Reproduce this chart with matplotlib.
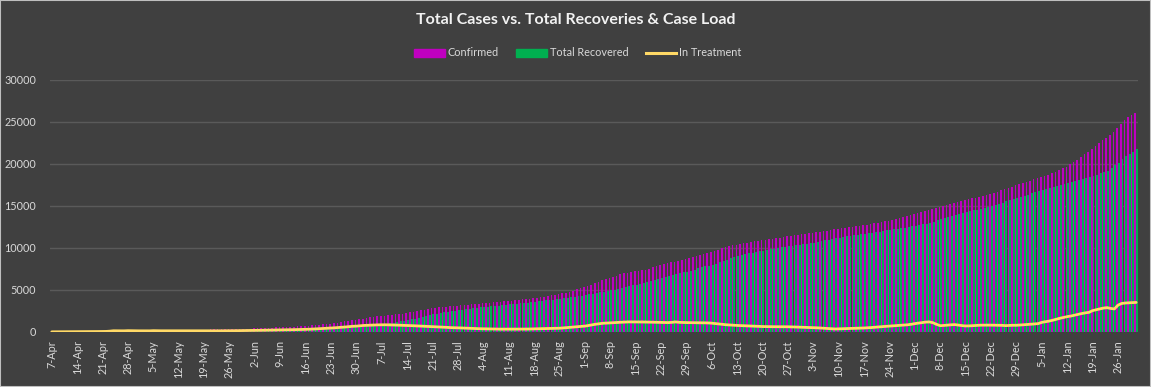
import matplotlib.pyplot as plt
import numpy as np
import pandas as pd
from matplotlib.patches import Rectangle
from matplotlib.lines import Line2D
from matplotlib.patches import Patch

plt.rcParams['font.family'] = ['Lato', 'DejaVu Sans']

# daily values, 7-Apr-2020 .. 31-Jan-2021, one row per week
confirmed = [
    20, 22, 25, 28, 30, 34, 38,
    40, 44, 48, 52, 56, 60, 65,
    70, 80, 110, 160, 175, 185, 192,
    200, 205, 210, 215, 220, 224, 228,
    232, 236, 240, 244, 248, 252, 256,
    260, 264, 268, 272, 276, 280, 284,
    290, 295, 300, 306, 312, 318, 324,
    330, 340, 350, 362, 375, 390, 405,
    420, 440, 460, 480, 500, 520, 540,
    560, 580, 600, 625, 650, 675, 700,
    720, 760, 800, 840, 890, 940, 970,
    1000, 1060, 1120, 1190, 1260, 1330, 1390,
    1450, 1520, 1590, 1660, 1730, 1790, 1850,
    1900, 1950, 2000, 2050, 2100, 2150, 2200,
    2250, 2330, 2410, 2490, 2570, 2650, 2730,
    2800, 2860, 2920, 2970, 3020, 3070, 3110,
    3150, 3190, 3230, 3270, 3310, 3350, 3390,
    3420, 3460, 3500, 3540, 3580, 3610, 3640,
    3680, 3730, 3780, 3830, 3880, 3930, 3980,
    4030, 4090, 4150, 4220, 4290, 4360, 4430,
    4500, 4600, 4700, 4820, 4940, 5060, 5180,
    5300, 5470, 5640, 5820, 6000, 6150, 6280,
    6400, 6550, 6700, 6850, 6980, 7080, 7170,
    7250, 7300, 7360, 7420, 7550, 7680, 7820,
    7950, 8060, 8170, 8280, 8390, 8500, 8600,
    8700, 8820, 8940, 9070, 9200, 9320, 9440,
    9550, 9680, 9820, 9960, 10100, 10220, 10320,
    10400, 10480, 10560, 10640, 10720, 10790, 10850,
    10900, 10970, 11040, 11110, 11180, 11250, 11330,
    11400, 11460, 11520, 11580, 11640, 11700, 11750,
    11800, 11870, 11940, 12010, 12080, 12150, 12230,
    12300, 12360, 12420, 12480, 12540, 12600, 12650,
    12700, 12770, 12850, 12930, 13010, 13090, 13170,
    13250, 13350, 13450, 13550, 13660, 13770, 13880,
    14000, 14130, 14260, 14380, 14500, 14620, 14740,
    14850, 14970, 15090, 15210, 15330, 15450, 15580,
    15700, 15800, 15900, 16000, 16110, 16220, 16330,
    16450, 16580, 16720, 16860, 17000, 17150, 17300,
    17450, 17600, 17750, 17890, 18030, 18160, 18280,
    18400, 18550, 18710, 18880, 19070, 19270, 19480,
    19700, 19950, 20200, 20500, 20800, 21150, 21450,
    21800, 22150, 22500, 22850, 23150, 23450, 23800,
    24300, 24800, 25250, 25600, 25850, 26050,
]

recovered = [
    0, 0, 0, 1, 1, 2, 2,
    3, 3, 4, 5, 5, 6, 7,
    8, 9, 10, 12, 14, 16, 18,
    20, 25, 30, 35, 40, 45, 50,
    55, 60, 65, 70, 75, 80, 85,
    90, 95, 100, 105, 110, 115, 120,
    120, 125, 130, 135, 140, 145, 150,
    150, 155, 160, 165, 172, 180, 190,
    200, 210, 220, 230, 240, 255, 270,
    280, 295, 310, 325, 340, 355, 370,
    380, 395, 410, 425, 445, 465, 485,
    500, 520, 550, 580, 610, 640, 670,
    700, 730, 760, 800, 840, 880, 920,
    950, 1000, 1060, 1120, 1190, 1260, 1330,
    1400, 1500, 1600, 1700, 1800, 1900, 2000,
    2100, 2180, 2260, 2340, 2420, 2490, 2550,
    2600, 2660, 2720, 2780, 2840, 2900, 2940,
    2980, 3020, 3060, 3100, 3150, 3200, 3240,
    3280, 3330, 3380, 3420, 3470, 3510, 3560,
    3600, 3650, 3700, 3760, 3810, 3860, 3910,
    3960, 4020, 4080, 4150, 4210, 4280, 4340,
    4400, 4470, 4550, 4630, 4710, 4790, 4870,
    4950, 5040, 5130, 5230, 5330, 5430, 5540,
    5650, 5760, 5870, 5980, 6100, 6220, 6340,
    6450, 6560, 6670, 6780, 6890, 7000, 7100,
    7200, 7320, 7440, 7560, 7680, 7800, 7900,
    7980, 8120, 8280, 8450, 8620, 8800, 8960,
    9100, 9200, 9300, 9380, 9460, 9550, 9630,
    9700, 9780, 9860, 9940, 10010, 10080, 10140,
    10200, 10250, 10310, 10370, 10430, 10490, 10550,
    10600, 10700, 10800, 10900, 11000, 11100, 11180,
    11250, 11320, 11380, 11450, 11520, 11580, 11640,
    11700, 11760, 11820, 11880, 11940, 12020, 12090,
    12150, 12220, 12290, 12360, 12430, 12500, 12580,
    12650, 12720, 12800, 12880, 12960, 13150, 13330,
    13500, 13620, 13740, 13860, 13980, 14100, 14200,
    14300, 14390, 14480, 14570, 14660, 14760, 14860,
    14950, 15090, 15240, 15390, 15540, 15680, 15820,
    15950, 16080, 16220, 16360, 16500, 16630, 16750,
    16850, 16970, 17090, 17210, 17330, 17450, 17580,
    17700, 17820, 17950, 18080, 18210, 18340, 18470,
    18600, 18740, 18880, 19030, 19200, 19500, 19850,
    20150, 20550, 20900, 21200, 21480, 21750,
]

in_treatment = [
    20, 22, 25, 27, 29, 32, 36,
    37, 41, 44, 47, 51, 54, 58,
    62, 71, 100, 148, 150, 140, 140,
    160, 150, 140, 140, 140, 139, 138,
    160, 146, 145, 144, 143, 142, 141,
    140, 139, 138, 137, 136, 135, 134,
    140, 140, 140, 141, 142, 143, 144,
    150, 155, 160, 165, 170, 175, 180,
    190, 200, 210, 220, 230, 235, 240,
    250, 255, 260, 270, 280, 290, 300,
    310, 330, 350, 370, 400, 430, 450,
    470, 500, 530, 560, 600, 640, 680,
    700, 740, 780, 800, 820, 840, 850,
    860, 860, 850, 840, 820, 800, 790,
    780, 760, 740, 720, 700, 680, 660,
    640, 630, 600, 570, 550, 520, 510,
    500, 480, 460, 440, 420, 400, 390,
    380, 370, 360, 350, 340, 340, 340,
    340, 340, 340, 340, 340, 350, 360,
    370, 380, 390, 400, 410, 420, 440,
    450, 480, 520, 560, 600, 640, 670,
    700, 780, 860, 930, 990, 1040, 1060,
    1080, 1110, 1140, 1160, 1180, 1200, 1200,
    1200, 1200, 1190, 1180, 1170, 1160, 1140,
    1130, 1120, 1120, 1150, 1200, 1150, 1130,
    1120, 1110, 1100, 1100, 1100, 1090, 1080,
    1050, 1000, 950, 900, 860, 830, 800,
    780, 760, 740, 720, 700, 680, 660,
    650, 640, 640, 630, 630, 620, 620,
    620, 610, 600, 580, 560, 540, 530,
    520, 500, 470, 440, 410, 380, 360,
    380, 390, 400, 420, 440, 450, 460,
    480, 500, 530, 570, 610, 640, 670,
    700, 730, 760, 790, 820, 860, 920,
    1000, 1060, 1120, 1180, 1200, 1100, 900,
    750, 780, 820, 860, 880, 820, 760,
    720, 730, 760, 790, 810, 820, 820,
    820, 810, 800, 790, 760, 780, 800,
    800, 830, 860, 900, 930, 960, 1000,
    1150, 1220, 1300, 1400, 1520, 1640, 1740,
    1830, 1900, 2000, 2100, 2200, 2280, 2340,
    2550, 2650, 2750, 2850, 2900, 2800, 2750,
    3200, 3400, 3450, 3480, 3500, 3520,
]

dates = pd.date_range('2020-04-07', periods=len(confirmed), freq='D')
labels = [f"{d.day}-{d.strftime('%b')}" for d in dates]

bg = '#404040'
txt = '#d9d9d9'
c_conf = '#c000c0'
c_rec = '#00b050'
c_line = '#ffd966'

fig = plt.figure(figsize=(11.51, 3.87), dpi=100, facecolor=bg)
fig.patches.append(Rectangle((0, 0), 1, 1, transform=fig.transFigure,
                             fill=False, edgecolor='#bfbfbf', linewidth=1.5))
ax = fig.add_axes([50 / 1151, 55 / 387, 1088 / 1151, 252 / 387])
ax.set_facecolor(bg)

x = np.arange(len(confirmed))
wc, wr = 0.44, 0.54
ax.bar(x - 0.48 + wc / 2, confirmed, width=wc, color=c_conf, linewidth=0,
       zorder=2, antialiased=False)
ax.bar(x - 0.04 + wr / 2, recovered, width=wr, color=c_rec, linewidth=0,
       zorder=2, antialiased=False)
ax.plot(x, in_treatment, color=c_line, linewidth=2.0, zorder=3,
        solid_capstyle='round')

ax.set_xlim(-0.5, len(confirmed) - 0.5)
ax.set_ylim(0, 30000)
ax.set_yticks(np.arange(0, 30001, 5000))
ax.yaxis.grid(True, color='#5a5a5a', linewidth=1)
ax.set_axisbelow(True)
ax.set_xticks(x[::7])
ax.set_xticklabels(labels[::7], rotation=90)
ax.tick_params(axis='both', length=0, colors=txt, labelsize=7.8)
ax.tick_params(axis='x', pad=6)
ax.tick_params(axis='y', pad=10)
for s in ax.spines.values():
    s.set_visible(False)

fig.text(0.5, 1 - 20 / 387, 'Total Cases vs. Total Recoveries & Case Load',
         ha='center', va='center', color='#f2f2f2', fontsize=11.5, fontweight='bold')

handles = [Patch(color=c_conf), Patch(color=c_rec),
           Line2D([], [], color=c_line, linewidth=2.2)]
fig.legend(handles, ['Confirmed', 'Total Recovered', 'In Treatment'],
           loc='center', bbox_to_anchor=(578 / 1151, 1 - 53 / 387), ncol=3,
           frameon=False, fontsize=7.8, labelcolor=txt, handlelength=2.8,
           handleheight=0.8, handletextpad=0.3, columnspacing=1.6)

fig.savefig('out.png', dpi=100, facecolor=bg)
